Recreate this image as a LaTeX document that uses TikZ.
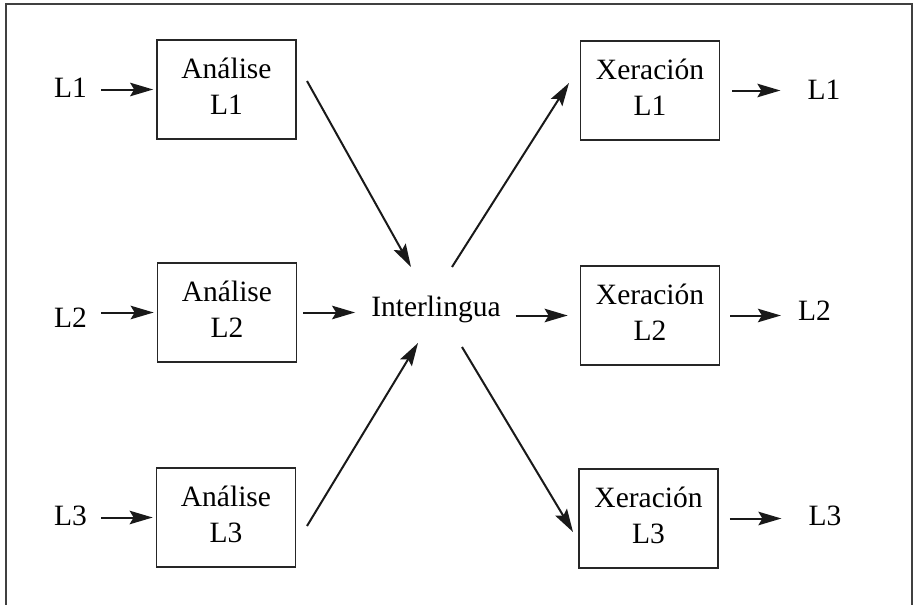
\documentclass[tikz,border=0pt]{standalone}
\usepackage{fontspec}
\setmainfont{Liberation Serif}
\usetikzlibrary{arrows.meta}
\begin{document}
\begin{tikzpicture}[x=1pt,y=-1pt,
  every node/.style={font=\fontsize{29.5}{36.5}\selectfont},
  procbox/.style={draw=black!85, line width=1.7pt, minimum width=139pt, minimum height=99pt, align=center, inner sep=0pt},
  lang/.style={inner sep=0pt, anchor=base},
  conn/.style={line width=2pt, black!90, -{Stealth[length=23pt,width=13.5pt,inset=4pt]}},
  frameline/.style={line width=2pt, black!75}
]
\useasboundingbox (0,0) rectangle (914,605);
\draw[frameline] (6,605) -- (6,4) -- (912,4) -- (912,605);

% boxes
\node[procbox] (a1) at (226.5,89.5) {Análise\\L1\rule[-6.5pt]{0pt}{0pt}};
\node[procbox] (a2) at (227,312.5) {Análise\\L2\rule[-6.5pt]{0pt}{0pt}};
\node[procbox] (a3) at (226,517.5) {Análise\\L3\rule[-6.5pt]{0pt}{0pt}};
\node[procbox] (x1) at (650,90.5) {Xeración\\L1\rule[-6.5pt]{0pt}{0pt}};
\node[procbox] (x2) at (650,315.5) {Xeración\\L2\rule[-6.5pt]{0pt}{0pt}};
\node[procbox] (x3) at (648.5,518.5) {Xeración\\L3\rule[-6.5pt]{0pt}{0pt}};

% interlingua
\node[lang] (il) at (436,316) {Interlingua};

% language labels
\node[lang] (l1) at (70.5,97) {L1};
\node[lang] (l2) at (70.5,327) {L2};
\node[lang] (l3) at (70.5,525) {L3};
\node[lang] (r1) at (824,99) {L1};
\node[lang] (r2) at (814.5,320) {L2};
\node[lang] (r3) at (825,525) {L3};

% coordinates for diagonal connectors
\coordinate (d1s) at (307,81);
\coordinate (d1e) at (411,267);
\coordinate (d2s) at (452,267);
\coordinate (d2e) at (569,83);
\coordinate (d3s) at (307,526);
\coordinate (d3e) at (418,343);
\coordinate (d4s) at (462,347);
\coordinate (d4e) at (573,532);

% input arrows
\draw[conn, shorten <=14pt, shorten >=3pt] (l1.east |- a1.west) -- (a1.west);
\draw[conn, shorten <=14pt, shorten >=3pt] (l2.east |- a2.west) -- (a2.west);
\draw[conn, shorten <=14pt, shorten >=3pt] (l3.east |- a3.west) -- (a3.west);

% output arrows
\draw[conn, shorten <=12pt, shorten >=27pt] (x1.east) -- (r1.west |- x1.east);
\draw[conn, shorten <=10pt, shorten >=17pt] (x2.east) -- (r2.west |- x2.east);
\draw[conn, shorten <=11pt, shorten >=27pt] (x3.east) -- (r3.west |- x3.east);

% middle horizontal arrows
\draw[conn, shorten <=6pt, shorten >=16pt] (a2.east) -- (il.west |- a2.east);
\draw[conn, shorten <=15pt, shorten >=12pt] (il.east |- x2.west) -- (x2.west);

% diagonals
\draw[conn] (d1s) -- (d1e);
\draw[conn] (d2s) -- (d2e);
\draw[conn] (d3s) -- (d3e);
\draw[conn] (d4s) -- (d4e);
\end{tikzpicture}
\end{document}
